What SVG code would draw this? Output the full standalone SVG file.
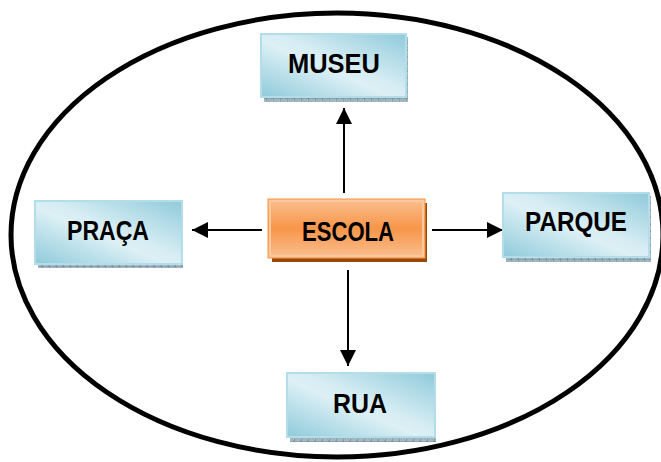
<svg xmlns="http://www.w3.org/2000/svg" width="661" height="462" viewBox="0 0 661 462">
  <defs>
    <linearGradient id="blueGrad" x1="0" y1="1" x2="1" y2="0">
      <stop offset="0" stop-color="#8fcadb"/>
      <stop offset="0.45" stop-color="#dcf0f5"/>
      <stop offset="0.55" stop-color="#d6edf3"/>
      <stop offset="1" stop-color="#8fcadb"/>
    </linearGradient>
    <linearGradient id="orangeGrad" x1="0" y1="0" x2="0" y2="1">
      <stop offset="0" stop-color="#fbbf90"/>
      <stop offset="0.5" stop-color="#f7964a"/>
      <stop offset="1" stop-color="#fbbf90"/>
    </linearGradient>
    <pattern id="hatch" width="7" height="7" patternUnits="userSpaceOnUse">
      <rect width="7" height="7" fill="#a7bcc5"/>
      <path d="M0 0L7 7M7 0L0 7" stroke="#8ea6b0" stroke-width="0.8"/>
      <path d="M0 0V7M0 0H7" stroke="#6f8a96" stroke-width="1"/>
    </pattern>
    <marker id="arrow" viewBox="0 0 16 16" refX="16" refY="8" markerWidth="16" markerHeight="16" markerUnits="userSpaceOnUse" orient="auto">
      <path d="M0 0L16 8L0 16Z" fill="#000"/>
    </marker>
  </defs>
  <style>
    .box { fill: url(#blueGrad); stroke: #b3dde8; stroke-width: 2; }
    .shadow { fill: url(#hatch); }
    .lbl { font-family: "Liberation Sans", Arial, sans-serif; font-weight: bold; font-size: 27px; fill: #000; text-anchor: middle; }
    .conn { stroke: #000; stroke-width: 2; fill: none; marker-end: url(#arrow); }
  </style>
  <rect width="661" height="462" fill="#fff"/>
  <ellipse cx="337" cy="235" rx="326" ry="222" fill="none" stroke="#000" stroke-width="5"/>

  <g id="connectors">
    <line class="conn" x1="344" y1="193" x2="344" y2="108"/>
    <line class="conn" x1="348" y1="270" x2="348" y2="366"/>
    <line class="conn" x1="262" y1="230" x2="192" y2="230"/>
    <line class="conn" x1="432" y1="230" x2="503" y2="230"/>
  </g>

  <g id="museu">
    <rect class="shadow" x="264" y="37" width="144" height="65"/>
    <rect class="box" x="261" y="34" width="145" height="63"/>
    <text class="lbl" x="334" y="73" textLength="92" lengthAdjust="spacingAndGlyphs">MUSEU</text>
  </g>

  <g id="escola">
    <rect x="272" y="203" width="155" height="59" fill="#984807"/>
    <rect x="268" y="199" width="157" height="59" fill="url(#orangeGrad)" stroke="#f79646" stroke-width="1"/>
    <rect x="270" y="201" width="153" height="55" fill="none" stroke="#fbc9a0" stroke-width="2"/>
    <text class="lbl" x="348" y="241" textLength="92" lengthAdjust="spacingAndGlyphs">ESCOLA</text>
  </g>

  <g id="praca">
    <rect class="shadow" x="38" y="204" width="145" height="64"/>
    <rect class="box" x="35" y="201" width="147" height="63"/>
    <text class="lbl" x="108" y="240" textLength="82" lengthAdjust="spacingAndGlyphs">PRAÇA</text>
  </g>

  <g id="parque">
    <rect class="shadow" x="506" y="196" width="145" height="66"/>
    <rect class="box" x="503" y="193" width="146" height="64"/>
    <text class="lbl" x="576" y="231" textLength="102" lengthAdjust="spacingAndGlyphs">PARQUE</text>
  </g>

  <g id="rua">
    <rect class="shadow" x="290" y="376" width="146" height="66"/>
    <rect class="box" x="287" y="373" width="148" height="64"/>
    <text class="lbl" x="360" y="413" textLength="54" lengthAdjust="spacingAndGlyphs">RUA</text>
  </g>
</svg>
